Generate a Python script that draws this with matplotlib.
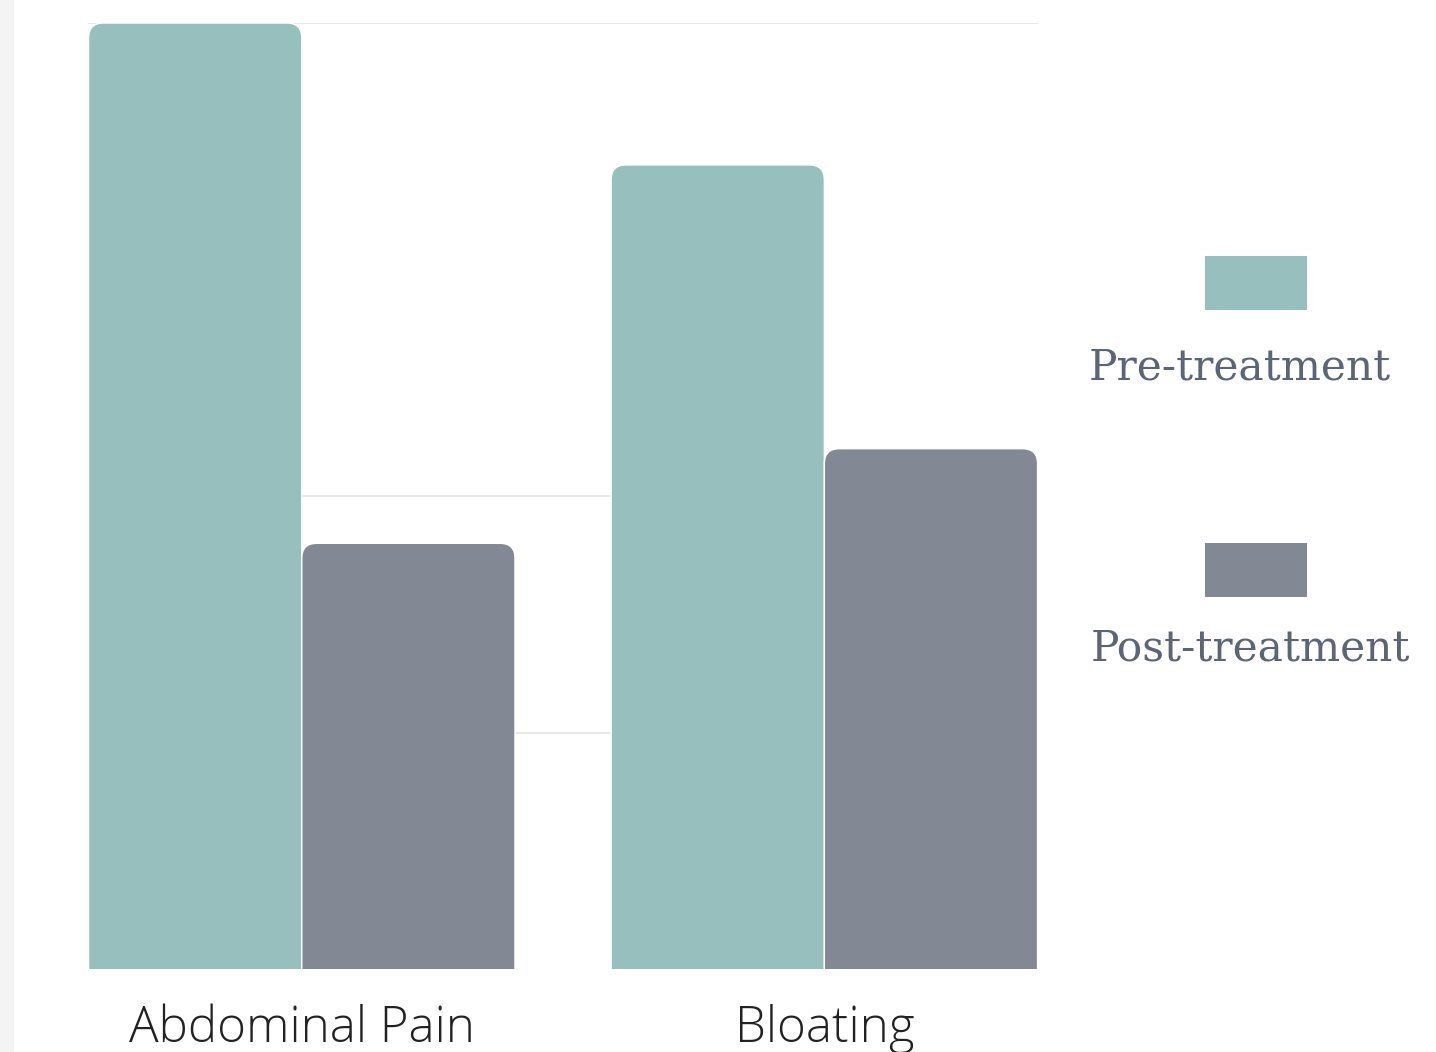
#!/usr/bin/env python3
"""Symptom scores before and after treatment, grouped bars with rounded tops."""

import numpy as np
import matplotlib.pyplot as plt
from matplotlib.patches import FancyBboxPatch, Rectangle

# data
categories = ['Abdominal Pain', 'Bloating']
series_names = ['Pre-treatment', 'Post-treatment']
pre_treatment = [100, 85]
post_treatment = [45, 55]
grid_values = [25, 50, 100]

colors = ['#96bfbd', '#838994']
legend_text_color = '#5b6577'

fig = plt.figure(figsize=(14.36, 10.52), dpi=100)
fig.patches.append(Rectangle((0, 0), 0.0095, 1, transform=fig.transFigure,
                             facecolor='#f4f4f4', edgecolor='none', zorder=0))

ax = fig.add_axes([0.0613, 0.0789, 0.6616, 0.8992])

x = np.arange(len(categories))
width = 0.408
xlim = (-width - 0.001, 1 + width + 0.001)
ylim = (0, 100)
ax.set_xlim(*xlim)
ax.set_ylim(*ylim)

for gv in grid_values:
    ax.axhline(gv, color='#e2e4e6', linewidth=1.2, zorder=0)

# rounded-top bars: draw the bars, then swap each for a rounded patch
fig_w_px = fig.get_figwidth() * fig.dpi * 0.6616
fig_h_px = fig.get_figheight() * fig.dpi * 0.8992
x_per_px = (xlim[1] - xlim[0]) / fig_w_px
y_per_px = (ylim[1] - ylim[0]) / fig_h_px
aspect = y_per_px / x_per_px
radius = 15 * x_per_px

for i, (vals, color) in enumerate(zip([pre_treatment, post_treatment], colors)):
    offset = (i - 0.5) * width
    bars = ax.bar(x + offset, vals, width, color=color, label=series_names[i])
    for bar in bars:
        bar.set_visible(False)
        bx, by = bar.get_x(), bar.get_y()
        bw, bh = bar.get_width(), bar.get_height()
        extra = 3
        patch = FancyBboxPatch((bx, by - extra), bw, bh + extra,
                               boxstyle=f"round,pad=0,rounding_size={radius}",
                               mutation_aspect=aspect,
                               facecolor=color, edgecolor='white',
                               linewidth=1.0, zorder=2)
        ax.add_patch(patch)

for spine in ax.spines.values():
    spine.set_visible(False)
ax.set_yticks([])
ax.set_xticks(x)
ax.set_xticklabels(categories, fontsize=35.5, color='#222222',
                   fontfamily='Open Sans', fontweight='light')
ax.tick_params(axis='x', length=0, pad=25)

# legend: swatch above label
legend_items = [(series_names[0], colors[0], 0.7567, 0.7053, 0.6502, 0.8635),
                (series_names[1], colors[1], 0.4838, 0.4325, 0.3840, 0.8705)]
for name, color, top, bottom, text_y, cx in legend_items:
    fig.patches.append(Rectangle((0.8388, bottom), 0.0717, top - bottom,
                                 transform=fig.transFigure,
                                 facecolor=color, edgecolor='none'))
    fig.text(cx, text_y, name, ha='center', va='center', fontsize=30.5,
             color=legend_text_color, fontfamily='DejaVu Serif')

plt.savefig('out.png', dpi=100)
